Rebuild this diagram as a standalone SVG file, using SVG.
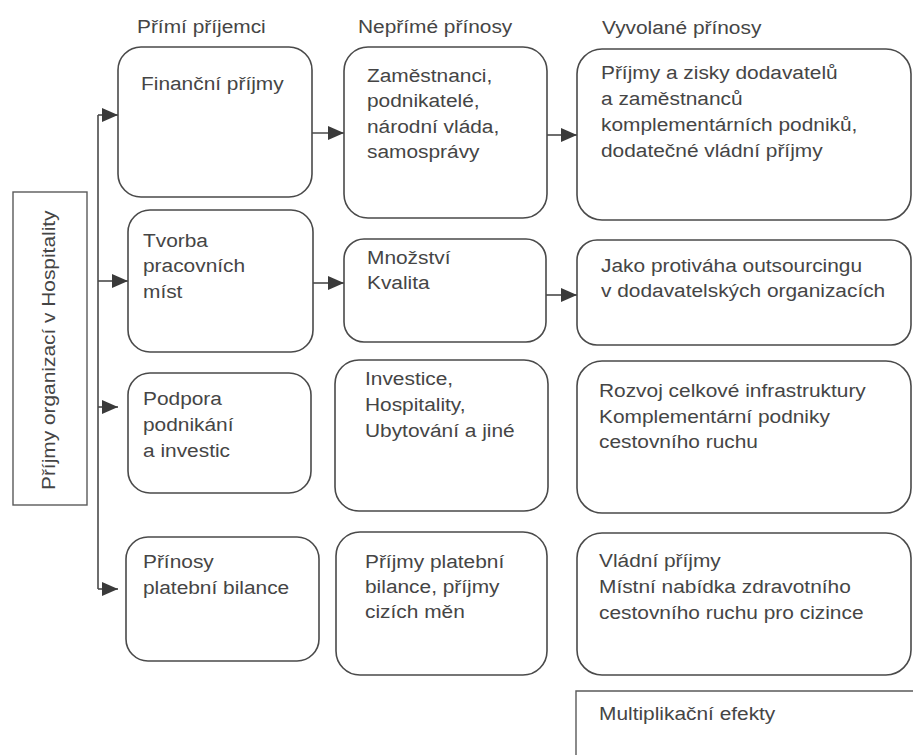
<svg xmlns="http://www.w3.org/2000/svg" width="913" height="755" viewBox="0 0 913 755">
<style>
  .bg{fill:#ffffff}
  .box{fill:#ffffff;stroke:#4a4a4a;stroke-width:1.6}
  .sq{fill:#ffffff;stroke:#5a5a5a;stroke-width:1.4}
  .ln{fill:none;stroke:#4a4a4a;stroke-width:1.6}
  .t{font-family:"Liberation Sans",Arial,Helvetica,sans-serif;font-size:18px;fill:#454545}
</style>
<defs>
  <marker id="ah" markerUnits="userSpaceOnUse" markerWidth="17" markerHeight="15" refX="16" refY="7" orient="auto">
    <path d="M0,0 L16,7 L0,14 Z" fill="#3a3a3a"/>
  </marker>
</defs>
<rect class="bg" x="0" y="0" width="913" height="755"/>

<g id="headers">
  <text class="t" transform="translate(137,33) scale(1.16,1)">Přímí příjemci</text>
  <text class="t" transform="translate(358,33) scale(1.16,1)">Nepřímé přínosy</text>
  <text class="t" transform="translate(602,34) scale(1.16,1)">Vyvolané přínosy</text>
</g>

<g id="connectors">
  <path class="ln" d="M98 115 V589"/>
  <path class="ln" d="M98 115 H118" marker-end="url(#ah)"/>
  <path class="ln" d="M98 281 H128" marker-end="url(#ah)"/>
  <path class="ln" d="M98 407 H118" marker-end="url(#ah)"/>
  <path class="ln" d="M98 589 H118" marker-end="url(#ah)"/>
  <path class="ln" d="M311 133 H344" marker-end="url(#ah)"/>
  <path class="ln" d="M547 135 H577" marker-end="url(#ah)"/>
  <path class="ln" d="M313 283 H344" marker-end="url(#ah)"/>
  <path class="ln" d="M546 295 H577" marker-end="url(#ah)"/>
</g>

<g id="source">
  <rect class="sq" x="13" y="192" width="74" height="313"/>
  <text class="t" transform="translate(55,490) rotate(-90) scale(1.16,1)">Příjmy organizací v Hospitality</text>
</g>

<g id="direct-financni">
  <rect class="box" x="118" y="47" width="194" height="150" rx="23" ry="23"/>
  <text class="t" transform="translate(141,90) scale(1.16,1)">Finanční příjmy</text>
</g>
<g id="direct-tvorba">
  <rect class="box" x="128" y="210" width="185" height="142" rx="22" ry="22"/>
  <text class="t" transform="translate(143,247) scale(1.16,1)"><tspan x="0" y="0">Tvorba</tspan><tspan x="0" y="25.5">pracovních</tspan><tspan x="0" y="51">míst</tspan></text>
</g>
<g id="direct-podpora">
  <rect class="box" x="128" y="373" width="183" height="120" rx="22" ry="22"/>
  <text class="t" transform="translate(143,405) scale(1.16,1)"><tspan x="0" y="0">Podpora</tspan><tspan x="0" y="26">podnikání</tspan><tspan x="0" y="52">a investic</tspan></text>
</g>
<g id="direct-prinosy">
  <rect class="box" x="126" y="537" width="193" height="124" rx="22" ry="22"/>
  <text class="t" transform="translate(143,568) scale(1.16,1)"><tspan x="0" y="0">Přínosy</tspan><tspan x="0" y="26">platební bilance</tspan></text>
</g>

<g id="indirect-zamestnanci">
  <rect class="box" x="344" y="47" width="203" height="171" rx="24" ry="24"/>
  <text class="t" transform="translate(367,82) scale(1.16,1)"><tspan x="0" y="0">Zaměstnanci,</tspan><tspan x="0" y="25.5">podnikatelé,</tspan><tspan x="0" y="51">národní vláda,</tspan><tspan x="0" y="76.5">samosprávy</tspan></text>
</g>
<g id="indirect-mnozstvi">
  <rect class="box" x="344" y="239" width="202" height="103" rx="20" ry="20"/>
  <text class="t" transform="translate(367,264) scale(1.16,1)"><tspan x="0" y="0">Množství</tspan><tspan x="0" y="25">Kvalita</tspan></text>
</g>
<g id="indirect-investice">
  <rect class="box" x="335" y="360" width="213" height="151" rx="24" ry="24"/>
  <text class="t" transform="translate(365,385) scale(1.16,1)"><tspan x="0" y="0">Investice,</tspan><tspan x="0" y="26">Hospitality,</tspan><tspan x="0" y="52">Ubytování a jiné</tspan></text>
</g>
<g id="indirect-platebni">
  <rect class="box" x="336" y="532" width="211" height="143" rx="24" ry="24"/>
  <text class="t" transform="translate(365,568) scale(1.16,1)"><tspan x="0" y="0">Příjmy platební</tspan><tspan x="0" y="25">bilance, příjmy</tspan><tspan x="0" y="50">cizích měn</tspan></text>
</g>

<g id="induced-prijmy">
  <rect class="box" x="577" y="49" width="334" height="171" rx="25" ry="25"/>
  <text class="t" transform="translate(601,79) scale(1.16,1)"><tspan x="0" y="0">Příjmy a zisky dodavatelů</tspan><tspan x="0" y="26">a zaměstnanců</tspan><tspan x="0" y="52">komplementárních podniků,</tspan><tspan x="0" y="78">dodatečné vládní příjmy</tspan></text>
</g>
<g id="induced-protivaha">
  <rect class="box" x="577" y="240" width="334" height="105" rx="20" ry="20"/>
  <text class="t" transform="translate(601,272) scale(1.16,1)"><tspan x="0" y="0">Jako protiváha outsourcingu</tspan><tspan x="0" y="25">v dodavatelských organizacích</tspan></text>
</g>
<g id="induced-rozvoj">
  <rect class="box" x="577" y="361" width="334" height="152" rx="25" ry="25"/>
  <text class="t" transform="translate(599,397) scale(1.16,1)"><tspan x="0" y="0">Rozvoj celkové infrastruktury</tspan><tspan x="0" y="26">Komplementární podniky</tspan><tspan x="0" y="51">cestovního ruchu</tspan></text>
</g>
<g id="induced-vladni">
  <rect class="box" x="577" y="533" width="334" height="142" rx="25" ry="25"/>
  <text class="t" transform="translate(599,567) scale(1.16,1)"><tspan x="0" y="0">Vládní příjmy</tspan><tspan x="0" y="26">Místní nabídka zdravotního</tspan><tspan x="0" y="52">cestovního ruchu pro cizince</tspan></text>
</g>

<g id="multiplikacni">
  <path class="sq" d="M576 755 V691 H913"/>
  <text class="t" transform="translate(599,720) scale(1.16,1)">Multiplikační efekty</text>
</g>
</svg>
